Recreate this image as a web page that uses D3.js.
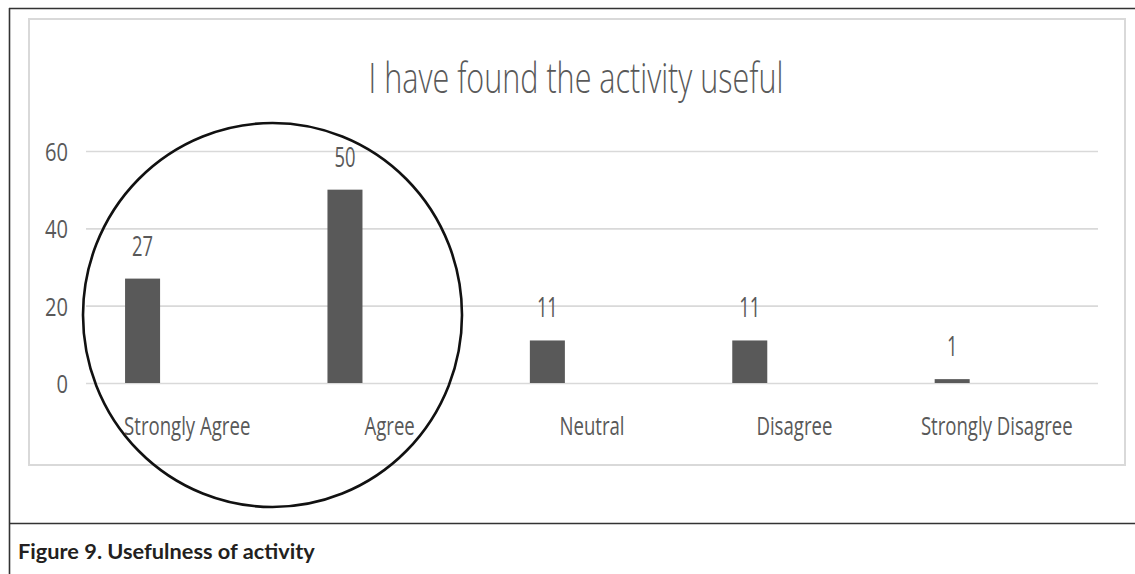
<!DOCTYPE html>
<html>
<head>
<meta charset="utf-8">
<script src="https://cdn.jsdelivr.net/npm/d3@7"></script>
<style>
  html, body { margin: 0; padding: 0; background: #ffffff; }
  svg { display: block; }
</style>
</head>
<body>
<svg id="fig" width="1135" height="574"></svg>
<script>
// Survey responses: "I have found the activity useful"
const categories = ["Strongly Agree", "Agree", "Neutral", "Disagree", "Strongly Disagree"];
const values = [27, 50, 11, 11, 1];
const yTicks = [0, 20, 40, 60];
const chartTitle = "I have found the activity useful";
const captionText = "Figure 9. Usefulness of activity";

const W = 1135, H = 574;
const svg = d3.select("#fig");

const textGrey = "#595959";
const barFill = "#595959";
const gridGrey = "#d9d9d9";
const font = "'Open Sans', sans-serif";

// plot area
const plot = { left: 86, right: 1098, top: 151, bottom: 383 };

const x = d3.scaleBand().domain(categories).range([plot.left, plot.right]).padding(0);
const y = d3.scaleLinear().domain([0, 60]).range([plot.bottom, plot.top]);

// horizontally condense a text node so that it spans a given width
function condense(sel, targetWidth, sample) {
  const node = sel.node();
  const original = node.textContent;
  if (sample) node.textContent = sample;
  const w = node.getComputedTextLength();
  node.textContent = original;
  return targetWidth / w;
}

// outer figure frame
const frame = svg.append("g").attr("stroke", "#333333").attr("stroke-width", 1.6).attr("fill", "none");
frame.append("line").attr("x1", 9).attr("x2", W).attr("y1", 8.5).attr("y2", 8.5);
frame.append("line").attr("x1", 9.5).attr("x2", 9.5).attr("y1", 8).attr("y2", H);
frame.append("line").attr("x1", 9).attr("x2", W).attr("y1", 523.5).attr("y2", 523.5);

// chart area border
svg.append("rect")
  .attr("x", 29).attr("y", 19).attr("width", 1096).attr("height", 446)
  .attr("fill", "#ffffff").attr("stroke", gridGrey).attr("stroke-width", 2);

// y axis with gridlines
const yAxis = svg.append("g")
  .attr("transform", `translate(${plot.left},0)`)
  .call(d3.axisLeft(y).tickValues(yTicks).tickSize(-(plot.right - plot.left)).tickPadding(18));
yAxis.select(".domain").remove();
yAxis.selectAll(".tick line").attr("stroke", gridGrey).attr("stroke-width", 1.6);
const yText = yAxis.selectAll(".tick text")
  .attr("fill", textGrey).style("font-family", font).style("font-size", "26px");
const kY = condense(yText.filter(d => d === 60), 23, "60");
yText.attr("x", 0).attr("dy", "0.36em")
  .attr("transform", `translate(-18,0) scale(${kY},1)`);

// bars
const barOffset = x.bandwidth() * 0.193;
const barWidth = x.bandwidth() * 0.173;
svg.append("g").selectAll("rect")
  .data(categories)
  .join("rect")
  .attr("x", (c) => x(c) + barOffset)
  .attr("width", barWidth)
  .attr("y", (c, i) => y(values[i]))
  .attr("height", (c, i) => y(0) - y(values[i]))
  .attr("fill", barFill);

// value labels above bars
const valueLabels = svg.append("g").selectAll("text")
  .data(categories)
  .join("text")
  .text((c, i) => values[i])
  .attr("text-anchor", "middle")
  .attr("fill", textGrey)
  .style("font-family", font).style("font-size", "28px");
const kV = condense(valueLabels.filter((c, i) => i === 0), 21, "27");
valueLabels.attr("transform", (c, i) =>
  `translate(${x(c) + barOffset + barWidth / 2},${y(values[i]) - 23}) scale(${kV},1)`);

// category labels
const catLabels = svg.append("g").selectAll("text")
  .data(categories)
  .join("text")
  .text((c) => c)
  .attr("text-anchor", "middle")
  .attr("fill", textGrey)
  .style("font-family", font).style("font-size", "25px");
const kC = condense(catLabels.filter((c, i) => i === 4), 152, "Strongly Disagree");
catLabels.attr("transform", (c) => `translate(${x(c) + x.bandwidth() / 2},435) scale(${kC},1)`);

// chart title
const title = svg.append("text")
  .text(chartTitle)
  .attr("text-anchor", "middle")
  .attr("fill", textGrey)
  .style("font-family", font).style("font-size", "43px").style("font-weight", 300);
const kT = condense(title, 415);
title.attr("transform", `translate(576,93) scale(${kT},1)`);

// highlight ring around the two agreeing categories
svg.append("ellipse")
  .attr("cx", 272.5).attr("cy", 315).attr("rx", 189.5).attr("ry", 192)
  .attr("fill", "none").attr("stroke", "#111111").attr("stroke-width", 2.6);

// figure caption
const cap = svg.append("text")
  .text(captionText)
  .attr("fill", "#231f20")
  .style("font-family", "Lato, sans-serif").style("font-size", "21px").style("font-weight", 700);
const kCap = condense(cap, 297);
cap.attr("transform", `translate(18,559) scale(${kCap},1)`);
</script>
</body>
</html>
